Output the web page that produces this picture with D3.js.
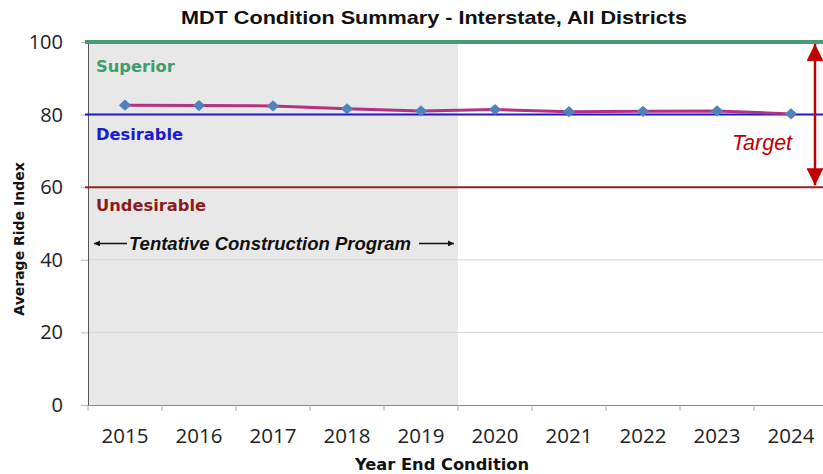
<!DOCTYPE html>
<html>
<head>
<meta charset="utf-8">
<script src="https://cdn.jsdelivr.net/npm/d3@7"></script>
<style>
  body { margin: 0; background: #fff; }
  svg { display: block; }
</style>
</head>
<body>
<div id="chart"></div>
<script>
// podatki
const years = ["2015", "2016", "2017", "2018", "2019", "2020", "2021", "2022", "2023", "2024"];
const rideIndex = [82.6, 82.5, 82.4, 81.6, 81.0, 81.4, 80.8, 80.9, 81.0, 80.2];
const programYears = ["2015", "2016", "2017", "2018", "2019"];
const yTicks = [0, 20, 40, 60, 80, 100];
const gridValues = [20, 40];
const levelNames = ["Superior", "Desirable", "Undesirable"];
const levelValues = [100, 80, 60];
const targetRange = [60, 100];

// slogi za mejne črte
const levelStyle = {
    Superior: { line: "#4c9a72", text: "#3f9c6c", width: 4, dy: 30 },
    Desirable: { line: "#1a1ad0", text: "#1a1ad0", width: 2, dy: 25 },
    Undesirable: { line: "#982222", text: "#8b1a1a", width: 2, dy: 24 }
};

const width = 823, height = 474;
const margin = { top: 42, right: -5, bottom: 69, left: 88 };

const svg = d3.select("#chart").append("svg")
    .attr("width", width)
    .attr("height", height);

const x = d3.scaleBand()
    .domain(years)
    .range([margin.left, width - margin.right])
    .padding(0);

const y = d3.scaleLinear()
    .domain([0, 100])
    .range([height - margin.bottom, margin.top]);

// siva površina za program
svg.append("rect")
    .attr("x", x(programYears[0]) + 1)
    .attr("y", y(100))
    .attr("width", x(programYears[programYears.length - 1]) + x.bandwidth() - x(programYears[0]) - 1)
    .attr("height", y(0) - y(100))
    .attr("fill", "#e8e8e8");

// mreža
svg.append("g").selectAll("line")
    .data(gridValues)
    .enter().append("line")
    .attr("x1", margin.left).attr("x2", width)
    .attr("y1", d => y(d)).attr("y2", d => y(d))
    .attr("stroke", "#d4d4d4").attr("stroke-width", 1);

// os Y
const yAxis = svg.append("g")
    .attr("transform", `translate(${margin.left},0)`)
    .call(d3.axisLeft(y).tickValues(yTicks).tickSize(7).tickPadding(18));
yAxis.select(".domain").attr("stroke", "#555");
yAxis.selectAll(".tick line").attr("stroke", "#bbb");
yAxis.selectAll("text")
    .style("font-family", "'Open Sans', sans-serif")
    .style("font-size", "20px")
    .attr("fill", "#222");

// os X
const xAxis = svg.append("g")
    .attr("transform", `translate(0,${y(0)})`)
    .call(d3.axisBottom(x).tickSize(0).tickPadding(23));
xAxis.select(".domain").attr("stroke", "#888");
xAxis.selectAll("text")
    .style("font-family", "'Open Sans', sans-serif")
    .style("font-size", "20.5px")
    .attr("fill", "#222");
svg.append("g").selectAll("line")
    .data(years)
    .enter().append("line")
    .attr("x1", d => x(d)).attr("x2", d => x(d))
    .attr("y1", y(0)).attr("y2", y(0) + 6)
    .attr("stroke", "#aaa");

// mejne črte
svg.append("g").selectAll("line")
    .data(levelNames)
    .enter().append("line")
    .attr("x1", margin.left - 3).attr("x2", width)
    .attr("y1", (d, i) => y(levelValues[i])).attr("y2", (d, i) => y(levelValues[i]))
    .attr("stroke", d => levelStyle[d].line)
    .attr("stroke-width", d => levelStyle[d].width);

svg.append("g").selectAll("text")
    .data(levelNames)
    .enter().append("text")
    .attr("x", margin.left + 8)
    .attr("y", (d, i) => y(levelValues[i]) + levelStyle[d].dy)
    .attr("fill", d => levelStyle[d].text)
    .style("font-family", "'DejaVu Sans', sans-serif")
    .style("font-weight", "bold")
    .style("font-size", "16.3px")
    .text(d => d);

// linija in točke
const line = d3.line()
    .x((d, i) => x(years[i]) + x.bandwidth() / 2)
    .y(d => y(d));

svg.append("path")
    .datum(rideIndex)
    .attr("d", line)
    .attr("fill", "none")
    .attr("stroke", "#b3337f")
    .attr("stroke-width", 3);

svg.append("g").selectAll("path")
    .data(rideIndex)
    .enter().append("path")
    .attr("transform", (d, i) => `translate(${x(years[i]) + x.bandwidth() / 2},${y(d)}) scale(1.1,1)`)
    .attr("d", d3.symbol().type(d3.symbolDiamond2).size(80))
    .attr("fill", "#5282bc");

// puščice
const defs = svg.append("defs");
defs.append("marker")
    .attr("id", "blk")
    .attr("viewBox", "0 0 10 10")
    .attr("refX", 10).attr("refY", 5)
    .attr("markerWidth", 11).attr("markerHeight", 6)
    .attr("markerUnits", "userSpaceOnUse")
    .attr("orient", "auto-start-reverse")
    .append("path").attr("d", "M0,0 L10,5 L0,10 Z").attr("fill", "#111");
defs.append("marker")
    .attr("id", "red")
    .attr("viewBox", "0 0 10 10")
    .attr("refX", 10).attr("refY", 5)
    .attr("markerWidth", 22).attr("markerHeight", 17)
    .attr("markerUnits", "userSpaceOnUse")
    .attr("orient", "auto-start-reverse")
    .append("path").attr("d", "M0,0 L10,5 L0,10 Z").attr("fill", "#c00000");

// Tentative Construction Program
const progMid = y(44.5);
const progLeft = x(programYears[0]) + 6;
const progRight = x(programYears[programYears.length - 1]) + x.bandwidth() - 4;
svg.append("line")
    .attr("x1", progLeft + 33).attr("x2", progLeft)
    .attr("y1", progMid).attr("y2", progMid)
    .attr("stroke", "#111").attr("stroke-width", 1.5)
    .attr("marker-end", "url(#blk)");
svg.append("line")
    .attr("x1", progRight - 35).attr("x2", progRight)
    .attr("y1", progMid).attr("y2", progMid)
    .attr("stroke", "#111").attr("stroke-width", 1.5)
    .attr("marker-end", "url(#blk)");
svg.append("text")
    .attr("x", 270)
    .attr("y", progMid + 7)
    .attr("text-anchor", "middle")
    .style("font-family", "'Liberation Sans', Arial, sans-serif")
    .style("font-weight", "bold")
    .style("font-style", "italic")
    .style("font-size", "18.5px")
    .attr("fill", "#111")
    .text("Tentative Construction Program");

// Target
const tx = 815;
svg.append("line")
    .attr("x1", tx).attr("x2", tx)
    .attr("y1", y(targetRange[0]) - 2).attr("y2", y(targetRange[1]) + 2)
    .attr("stroke", "#c00000").attr("stroke-width", 2.5)
    .attr("marker-start", "url(#red)")
    .attr("marker-end", "url(#red)");
svg.append("text")
    .attr("x", 762)
    .attr("y", 150)
    .attr("text-anchor", "middle")
    .style("font-family", "'Liberation Sans', Arial, sans-serif")
    .style("font-style", "italic")
    .style("font-size", "21.5px")
    .attr("fill", "#c00000")
    .text("Target");

// naslovi
svg.append("text")
    .attr("x", 434).attr("y", 24)
    .attr("text-anchor", "middle")
    .attr("textLength", 506)
    .attr("lengthAdjust", "spacingAndGlyphs")
    .style("font-family", "'Liberation Sans', Arial, sans-serif")
    .style("font-weight", "bold")
    .style("font-size", "19px")
    .attr("fill", "#111")
    .text("MDT Condition Summary - Interstate, All Districts");

svg.append("text")
    .attr("x", 442).attr("y", 470)
    .attr("text-anchor", "middle")
    .style("font-family", "'DejaVu Sans', sans-serif")
    .style("font-weight", "bold")
    .style("font-size", "16.3px")
    .attr("fill", "#111")
    .text("Year End Condition");

svg.append("text")
    .attr("transform", `translate(24,239) rotate(-90)`)
    .attr("text-anchor", "middle")
    .style("font-family", "'DejaVu Sans', sans-serif")
    .style("font-weight", "bold")
    .style("font-size", "14px")
    .attr("fill", "#111")
    .text("Average Ride Index");
</script>
</body>
</html>
